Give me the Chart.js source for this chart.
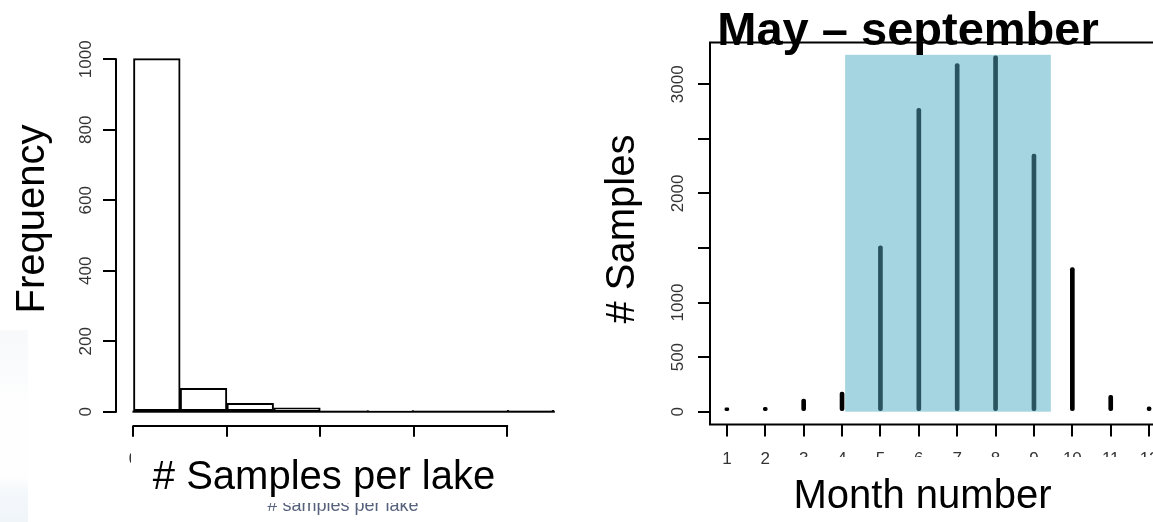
<!DOCTYPE html>
<html><head><meta charset="utf-8">
<script src="https://cdn.jsdelivr.net/npm/chart.js@4.4.1/dist/chart.umd.min.js"></script>
<style>
html,body{margin:0;padding:0;background:#fff;overflow:hidden;width:1153px;height:522px;}
#wrap{position:relative;width:1153px;height:522px;overflow:hidden;background:#fff;}
#c1{position:absolute;left:0;top:0;}
#c2{position:absolute;left:580px;top:0;}
#patch{position:absolute;left:0;top:330px;width:28px;height:192px;
background:linear-gradient(to bottom,#f7f9fb 0%,#f9fbfc 22%,#fefefe 36%,#fefefe 76%,#f4f8fb 84%,#f0f5fa 100%);}
</style></head><body>
<div id="wrap"><canvas id="c1" width="580" height="522"></canvas><div id="patch"></div><canvas id="c2" width="620" height="522"></canvas></div>
<script>
// ---------- data: histogram of samples per lake ----------
const binCenters = [25, 75, 125, 175, 225, 275, 325, 375, 425];
const lakeCounts = [1002, 66, 24, 11, 0, 3, 0, 0, 4];
const histXTicks = [0, 100, 200, 300, 400];
const histXTickLabels = ['0', '100', '200', '300', '400'];
const histYTicks = [0, 200, 400, 600, 800, 1000];
const histYTickLabels = ['0', '200', '400', '600', '800', '1000'];

// ---------- data: samples per month ----------
const months = [1, 2, 3, 4, 5, 6, 7, 8, 9, 10, 11, 12];
const monthSamples = [35, 40, 115, 180, 1520, 2780, 3190, 3260, 2360, 1320, 150, 45];
const monthXTickLabels = ['1', '2', '3', '4', '5', '6', '7', '8', '9', '10', '11', '12'];
const monthYTicks = [0, 500, 1000, 1500, 2000, 2500, 3000];
const monthYTickLabels = ['0', '500', '1000', '', '2000', '', '3000'];
const seasonRange = [4.08, 9.44];   // highlighted May–September band (month units)
const seasonTop = 3270;             // band height (samples)

const FONT = '"Liberation Sans", Arial, Helvetica, sans-serif';
const binWidth = binCenters[1] - binCenters[0];

function rotLabel(ctx, text, x, y, font, color) {
  ctx.save();
  ctx.translate(x, y);
  ctx.rotate(-Math.PI / 2);
  ctx.font = font;
  ctx.fillStyle = color;
  ctx.textAlign = 'center';
  ctx.textBaseline = 'alphabetic';
  ctx.fillText(text, 0, 0);
  ctx.restore();
}

function drawHistAxes(chart) {
  const {ctx, scales: {x, y}} = chart;
  const yb = y.getPixelForValue(histYTicks[0]);
  const yt = y.getPixelForValue(histYTicks[histYTicks.length - 1]);
  const ax = Math.round(chart.chartArea.left);
  ctx.save();
  ctx.fillStyle = '#000';
  ctx.fillRect(ax - 1, yt - 1, 2, yb - yt + 2);
  const xl = x.getPixelForValue(histXTicks[0]);
  const xr = x.getPixelForValue(histXTicks[histXTicks.length - 1]);
  const ay = Math.round(x.top);
  ctx.fillRect(xl - 1, ay - 1, xr - xl + 2, 2);
  ctx.restore();
}

// ---------- left: histogram ----------
const histPlugin = {
  id: 'histDeco',
  beforeDatasetsDraw(chart) {
    const {ctx, scales: {x, y}} = chart;
    ctx.save();
    ctx.fillStyle = '#000';
    const y0 = y.getPixelForValue(0);
    const xa = x.getPixelForValue(binCenters[0] - binWidth / 2);
    const xb = x.getPixelForValue(binCenters[binCenters.length - 1] + binWidth / 2);
    ctx.fillRect(xa - 1, y0 - 1, xb - xa + 2, 2);
    ctx.restore();
  },
  afterDraw(chart) {
    const {ctx, scales: {x, y}} = chart;
    drawHistAxes(chart);
    ctx.save();
    histYTicks.forEach((v, i) => {
      rotLabel(ctx, histYTickLabels[i], 91, y.getPixelForValue(v), '17px ' + FONT, '#333');
    });
    ctx.font = '18px ' + FONT;
    ctx.fillStyle = '#56627c';
    ctx.textAlign = 'center';
    ctx.textBaseline = 'alphabetic';
    ctx.fillText('# samples per lake', 343, 511);
    ctx.fillStyle = '#fff';
    ctx.fillRect(131, 450, 444, 53);
    ctx.fillStyle = '#000';
    ctx.font = '40px ' + FONT;
    ctx.fillText('# Samples per lake', 324, 489);
    rotLabel(ctx, 'Frequency', 44, 219, '40px ' + FONT, '#000');
    ctx.restore();
  }
};

new Chart(document.getElementById('c1'), {
  type: 'bar',
  data: {
    datasets: [{
      data: binCenters.map((c, i) => ({x: c, y: lakeCounts[i]})),
      backgroundColor: '#fff',
      borderColor: '#000',
      borderWidth: 2,
      borderSkipped: false,
      barPercentage: 1,
      categoryPercentage: 1
    }]
  },
  options: {
    responsive: false, animation: false, devicePixelRatio: 1,
    layout: {padding: {left: 0, right: 9, top: 44.5, bottom: 0}},
    plugins: {legend: {display: false}, tooltip: {enabled: false}},
    scales: {
      x: {
        type: 'linear', min: -18.7, max: 468.4, offset: false,
        afterBuildTicks: s => { s.ticks = histXTicks.map(v => ({value: v})); },
        afterFit: s => { s.height = 96.3; },
        border: {display: false},
        grid: {offset: false, drawOnChartArea: false, drawTicks: true, tickLength: 11, color: '#000', lineWidth: 2},
        ticks: {padding: 12, color: '#333', font: {family: FONT, size: 17}, maxRotation: 0, autoSkip: false,
                callback: (v, i) => histXTickLabels[i]}
      },
      y: {
        type: 'linear', min: -39.7, max: 1042,
        afterBuildTicks: s => { s.ticks = histYTicks.map(v => ({value: v})); },
        afterFit: s => { s.width = 116; },
        border: {display: false},
        grid: {drawOnChartArea: false, drawTicks: true, tickLength: 13, color: '#000', lineWidth: 2},
        ticks: {display: false}
      }
    }
  },
  plugins: [histPlugin]
});

// ---------- right: samples per month ----------
const inSeason = m => m >= seasonRange[0] && m <= seasonRange[1];
const OFF = 580;

const monthPlugin = {
  id: 'monthDeco',
  beforeDatasetsDraw(chart) {
    const {ctx, scales: {x, y}} = chart;
    const x1 = x.getPixelForValue(seasonRange[0]);
    const x2 = x.getPixelForValue(seasonRange[1]);
    const y1 = y.getPixelForValue(seasonTop);
    const y2 = y.getPixelForValue(0);
    ctx.save();
    ctx.fillStyle = '#a6d5e2';
    ctx.fillRect(x1, y1, x2 - x1, y2 - y1);
    ctx.restore();
  },
  afterDraw(chart) {
    const {ctx, scales: {x, y}, chartArea: a} = chart;
    ctx.save();
    ctx.strokeStyle = '#000'; ctx.lineWidth = 2;
    ctx.strokeRect(a.left, a.top, a.right - a.left, a.bottom - a.top);
    monthYTicks.forEach((v, i) => {
      if (monthYTickLabels[i]) rotLabel(ctx, monthYTickLabels[i], 683 - OFF, y.getPixelForValue(v), '17px ' + FONT, '#333');
    });
    ctx.fillStyle = '#fff';
    ctx.fillRect(785 - OFF, 457, 640, 65);
    ctx.fillStyle = '#000';
    ctx.textAlign = 'center';
    ctx.textBaseline = 'alphabetic';
    ctx.font = '40px ' + FONT;
    ctx.fillText('Month number', 922.5 - OFF, 508);
    rotLabel(ctx, '# Samples', 634 - OFF, 229, '40px ' + FONT, '#000');
    ctx.font = 'bold 47px ' + FONT;
    ctx.fillStyle = '#000';
    ctx.fillText('May \u2013 september', 908 - OFF, 45);
    ctx.restore();
  }
};

new Chart(document.getElementById('c2'), {
  type: 'bar',
  data: {
    datasets: [{
      data: months.map((m, i) => ({x: m, y: monthSamples[i]})),
      backgroundColor: c => inSeason(c.raw.x) ? '#28535f' : '#000',
      borderWidth: 0,
      barThickness: 4,
      borderRadius: 2,
      borderSkipped: false
    }]
  },
  options: {
    responsive: false, animation: false, devicePixelRatio: 1,
    layout: {padding: {left: 0, right: 34, top: 42.5, bottom: 0}},
    plugins: {legend: {display: false}, tooltip: {enabled: false}},
    scales: {
      x: {
        type: 'linear', min: 0.56, max: 12.44, offset: false,
        afterBuildTicks: s => { s.ticks = months.map(v => ({value: v})); },
        afterFit: s => { s.height = 97.5; },
        border: {display: false},
        grid: {offset: false, drawOnChartArea: false, drawTicks: true, tickLength: 12, color: '#000', lineWidth: 2},
        ticks: {padding: 13, color: '#333', font: {family: FONT, size: 17}, maxRotation: 0, autoSkip: false,
                callback: (v, i) => monthXTickLabels[i]}
      },
      y: {
        type: 'linear', min: -117.3, max: 3383,
        afterBuildTicks: s => { s.ticks = monthYTicks.map(v => ({value: v})); },
        afterFit: s => { s.width = 130; },
        border: {display: false},
        grid: {drawOnChartArea: false, drawTicks: true, tickLength: 12, color: '#000', lineWidth: 2},
        ticks: {display: false}
      }
    }
  },
  plugins: [monthPlugin]
});
</script>
</body></html>
